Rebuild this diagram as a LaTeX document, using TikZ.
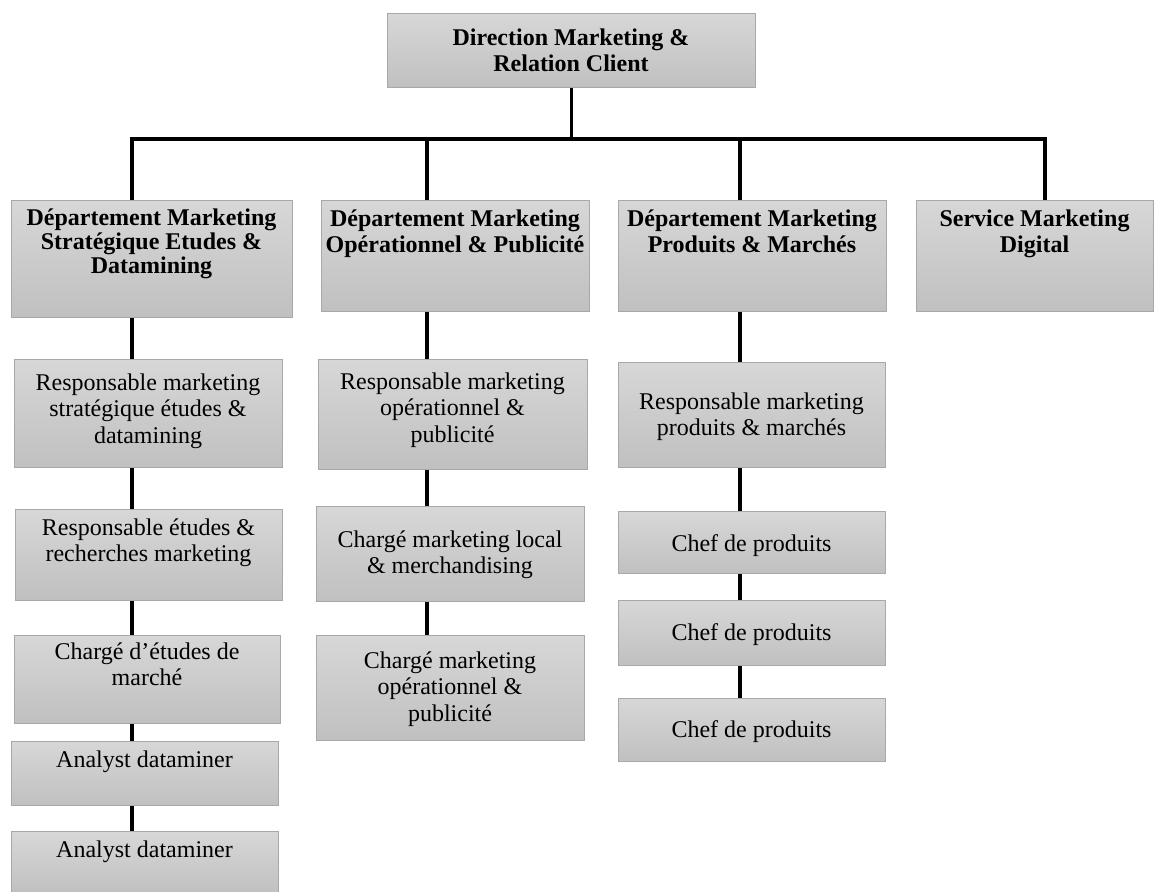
\documentclass[tikz,border=0pt]{standalone}
\usepackage{fontspec}
\setmainfont{Liberation Serif}
\begin{document}
\begin{tikzpicture}[x=1pt,y=-1pt,
  orgbox/.style={draw=boxedge, line width=1pt, rectangle, inner sep=0pt,
    top color=boxtop, bottom color=boxbottom, shading angle=0},
  orglabel/.style={align=center, inner sep=0pt, font=\fontsize{24}{26.5}\selectfont},
  headlabel/.style={align=center, inner sep=0pt, font=\fontsize{24}{26}\selectfont\bfseries},
  link/.style={line width=3.5pt, black},
  barline/.style={line width=4pt, black}]
\definecolor{boxtop}{RGB}{215,215,215}
\definecolor{boxbottom}{RGB}{192,192,192}
\definecolor{boxedge}{RGB}{168,168,168}

% #1 name, #2 left, #3 top, #4 right, #5 bottom, #6 first baseline, #7 text style, #8 text
\newcommand\orgunit[8]{%
  \node[orgbox, anchor=north west, minimum width={(#4-#2)*1pt}, minimum height={(#5-#3)*1pt}]
    (#1) at (#2,#3) {};
  \node[#7, anchor=north] (#1-t) at ({(#2+#4)/2},{#6-16.5}) {#8};
}

\useasboundingbox (0,0) rectangle (1155,891);

% top of the chart
\orgunit{dir}{387}{13}{755}{87}{45}{headlabel}{Direction Marketing \&\\Relation Client}

% departments
\orgunit{d1}{11}{200}{292}{317}{225}{headlabel}{Département Marketing\\[-2pt]Stratégique Etudes \&\\[-2pt]Datamining}
\orgunit{d2}{321}{200}{589}{311}{226}{headlabel}{Département Marketing\\Opérationnel \& Publicité}
\orgunit{d3}{618}{200}{886}{311}{226}{headlabel}{Département Marketing\\Produits \& Marchés}
\orgunit{d4}{916}{200}{1153}{311}{226}{headlabel}{Service Marketing\\Digital}

% first column
\orgunit{a1}{14}{359}{282}{467}{390}{orglabel}{Responsable marketing\\stratégique études \&\\datamining}
\orgunit{a2}{15}{509}{282}{600}{535}{orglabel}{Responsable études \&\\recherches marketing}
\orgunit{a3}{14}{635}{280}{723}{659}{orglabel}{Chargé d’études de\\marché}
\orgunit{a4}{11}{741}{278}{805}{767}{orglabel}{Analyst dataminer}
\orgunit{a5}{11}{831}{278}{894}{857}{orglabel}{Analyst dataminer}

% second column
\orgunit{b1}{318}{359}{587}{469}{389}{orglabel}{Responsable marketing\\opérationnel \&\\publicité}
\orgunit{b2}{316}{506}{584}{601}{547}{orglabel}{Chargé marketing local\\\& merchandising}
\orgunit{b3}{316}{635}{584}{740}{668}{orglabel}{Chargé marketing\\opérationnel \&\\publicité}

% third column
\orgunit{c1}{618}{362}{885}{467}{409}{orglabel}{Responsable marketing\\produits \& marchés}
\orgunit{c2}{618}{511}{885}{573}{551}{orglabel}{Chef de produits}
\orgunit{c3}{618}{600}{885}{665}{640}{orglabel}{Chef de produits}
\orgunit{c4}{618}{698}{885}{761}{737}{orglabel}{Chef de produits}

% horizontal bar and its drop points
\coordinate (p1) at (132,139);
\coordinate (p2) at (427,139);
\coordinate (p3) at (740,139);
\coordinate (p4) at (1045,139);
\draw[barline] ([xshift=-1.75pt]p1) -- ([xshift=1.75pt]p4);
\draw[link] (dir.south) -- (dir.south |- p1);
\draw[link] (p1) -- (p1 |- d1.north);
\draw[link] (p2) -- (p2 |- d2.north);
\draw[link] (p3) -- (p3 |- d3.north);
\draw[link] (p4) -- (p4 |- d4.north);

% vertical chains
\draw[link] (d1.south -| p1) -- (a1.north -| p1);
\draw[link] (a1.south -| p1) -- (a2.north -| p1);
\draw[link] (a2.south -| p1) -- (a3.north -| p1);
\draw[link] (a3.south -| p1) -- (a4.north -| p1);
\draw[link] (a4.south -| p1) -- (a5.north -| p1);

\draw[link] (d2.south -| p2) -- (b1.north -| p2);
\draw[link] (b1.south -| p2) -- (b2.north -| p2);
\draw[link] (b2.south -| p2) -- (b3.north -| p2);

\draw[link] (d3.south -| p3) -- (c1.north -| p3);
\draw[link] (c1.south -| p3) -- (c2.north -| p3);
\draw[link] (c2.south -| p3) -- (c3.north -| p3);
\draw[link] (c3.south -| p3) -- (c4.north -| p3);
\end{tikzpicture}
\end{document}
